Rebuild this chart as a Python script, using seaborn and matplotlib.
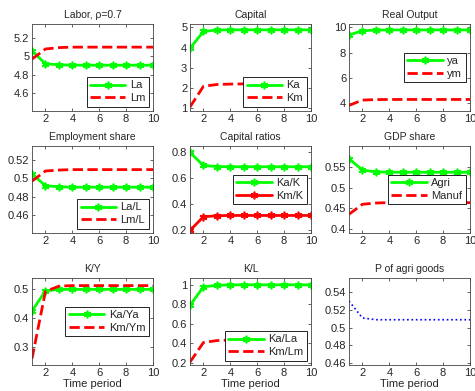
import numpy as np
import pandas as pd
import matplotlib
matplotlib.use("Agg")
import matplotlib.pyplot as plt
import seaborn as sns

sns.set_style("white")
plt.rcParams['font.family'] = ['Liberation Sans', 'DejaVu Sans']

t = list(range(1, 11))

La = [5.06, 4.92, 4.91, 4.905, 4.905, 4.905, 4.905, 4.905, 4.905, 4.905]
Lm = [4.97, 5.08, 5.095, 5.10, 5.10, 5.10, 5.10, 5.10, 5.10, 5.10]
Ka = [3.97, 4.80, 4.87, 4.88, 4.88, 4.88, 4.88, 4.88, 4.88, 4.88]
Km = [1.07, 2.09, 2.18, 2.20, 2.21, 2.21, 2.21, 2.21, 2.21, 2.21]
ya = [9.39, 9.73, 9.78, 9.79, 9.79, 9.79, 9.79, 9.79, 9.79, 9.79]
ym = [3.84, 4.26, 4.30, 4.31, 4.31, 4.31, 4.31, 4.31, 4.31, 4.31]
LaL = [0.505, 0.492, 0.491, 0.4905, 0.4905, 0.4905, 0.4905, 0.4905, 0.4905, 0.4905]
LmL = [0.497, 0.508, 0.509, 0.5095, 0.5095, 0.5095, 0.5095, 0.5095, 0.5095, 0.5095]
KaK = [0.80, 0.70, 0.692, 0.690, 0.690, 0.690, 0.690, 0.690, 0.690, 0.690]
KmK = [0.20, 0.305, 0.313, 0.315, 0.315, 0.315, 0.315, 0.315, 0.315, 0.315]
Agri = [0.5695, 0.542, 0.538, 0.537, 0.537, 0.537, 0.537, 0.537, 0.537, 0.537]
Manuf = [0.436, 0.460, 0.463, 0.464, 0.464, 0.464, 0.464, 0.464, 0.464, 0.464]
KaYa = [0.425, 0.494, 0.499, 0.499, 0.499, 0.499, 0.499, 0.499, 0.499, 0.499]
KmYm = [0.262, 0.492, 0.510, 0.512, 0.512, 0.512, 0.512, 0.512, 0.512, 0.512]
KaLa = [0.79, 0.98, 0.995, 1.0, 1.0, 1.0, 1.0, 1.0, 1.0, 1.0]
KmLm = [0.21, 0.41, 0.43, 0.435, 0.435, 0.435, 0.435, 0.435, 0.435, 0.435]
Pagri = [0.530, 0.511, 0.509, 0.509, 0.509, 0.509, 0.509, 0.509, 0.509, 0.509]

titles = ["Labor, \u03c1=0.7", "Capital", "Real Output",
          "Employment share", "Capital ratios", "GDP share",
          "K/Y", "K/L", "P of agri goods"]

GREEN = (0, 1, 0)
RED = (1, 0, 0)
BLUE = (0, 0, 1)
AST = (6, 2, 0)

panels = [
    [("La", La, GREEN, "-", True), ("Lm", Lm, RED, "--", False)],
    [("Ka", Ka, GREEN, "-", True), ("Km", Km, RED, "--", False)],
    [("ya", ya, GREEN, "-", True), ("ym", ym, RED, "--", False)],
    [("La/L", LaL, GREEN, "-", True), ("Lm/L", LmL, RED, "--", False)],
    [("Ka/K", KaK, GREEN, "-", True), ("Km/K", KmK, RED, "-", True)],
    [("Agri", Agri, GREEN, "-", True), ("Manuf", Manuf, RED, "--", False)],
    [("Ka/Ya", KaYa, GREEN, "-", True), ("Km/Ym", KmYm, RED, "--", False)],
    [("Ka/La", KaLa, GREEN, "-", True), ("Km/Lm", KmLm, RED, "--", False)],
    [(None, Pagri, BLUE, ":", False)],
]

ylims = [(4.41, 5.35), (0.87, 5.17), (3.4, 10.26),
         (0.441, 0.535), (0.18, 0.85), (0.391, 0.60),
         (0.24, 0.538), (0.18, 1.07), (0.458, 0.556)]
yticks = [[4.6, 4.8, 5, 5.2], [1, 2, 3, 4, 5], [4, 6, 8, 10],
          [0.46, 0.48, 0.5, 0.52], [0.2, 0.4, 0.6, 0.8], [0.4, 0.45, 0.5, 0.55],
          [0.3, 0.4, 0.5], [0.2, 0.4, 0.6, 0.8, 1], [0.46, 0.48, 0.5, 0.52, 0.54]]
ytick_labels = [["4.6", "4.8", "5", "5.2"], ["1", "2", "3", "4", "5"], ["4", "6", "8", "10"],
                ["0.46", "0.48", "0.5", "0.52"], ["0.2", "0.4", "0.6", "0.8"],
                ["0.4", "0.45", "0.5", "0.55"], ["0.3", "0.4", "0.5"],
                ["0.2", "0.4", "0.6", "0.8", "1"], ["0.46", "0.48", "0.5", "0.52", "0.54"]]
legend_locs = ["lower right", "lower right", "center right",
               "lower right", "center right", "center right",
               "center right", "lower right", None]

W, H = 475, 391
fig = plt.figure(figsize=(W / 100, H / 100), dpi=100)

col_left = [32, 190, 349]
row_top = [24, 146, 278]
aw, ah = 121, 87

for i in range(9):
    r, c = divmod(i, 3)
    x0 = col_left[c] / W
    y0 = 1 - (row_top[r] + ah) / H
    ax = fig.add_axes([x0, y0, aw / W, ah / H])
    for (lab, vals, col, ls, mk) in panels[i]:
        df = pd.DataFrame({"t": t, "v": vals})
        sns.lineplot(data=df, x="t", y="v", ax=ax, label=lab, legend=False,
                     color=col, linestyle=ls,
                     linewidth=2 if ls != ":" else 1.2)
        ln = ax.lines[-1]
        if mk:
            ln.set_marker(AST)
            ln.set_markersize(5.5)
            ln.set_markeredgewidth(1.2)
            ln.set_markeredgecolor(col)
            ln.set_markerfacecolor(col)
    ax.set_xlim(1, 10)
    ax.set_ylim(*ylims[i])
    ax.set_xticks([2, 4, 6, 8, 10])
    ax.set_yticks(yticks[i])
    ax.set_yticklabels(ytick_labels[i])
    ax.tick_params(direction="in", length=2.5, labelsize=8, width=0.5,
                   top=True, right=True, bottom=True, left=True, pad=2)
    ax.set_xlabel("Time period" if r == 2 else "", fontsize=8, labelpad=1)
    ax.set_ylabel("")
    ax.set_title(titles[i], fontsize=7.5, pad=4)
    for sp in ax.spines.values():
        sp.set_visible(True)
        sp.set_color("#444444")
        sp.set_linewidth(0.6)
    if legend_locs[i]:
        leg = ax.legend(loc=legend_locs[i], fontsize=8, frameon=True,
                        fancybox=False, edgecolor="black", framealpha=1,
                        handlelength=3.2, borderpad=0.3, labelspacing=0.25,
                        borderaxespad=0.4, handletextpad=0.4)
        leg.get_frame().set_linewidth(0.6)

fig.savefig("out.png", dpi=100)
